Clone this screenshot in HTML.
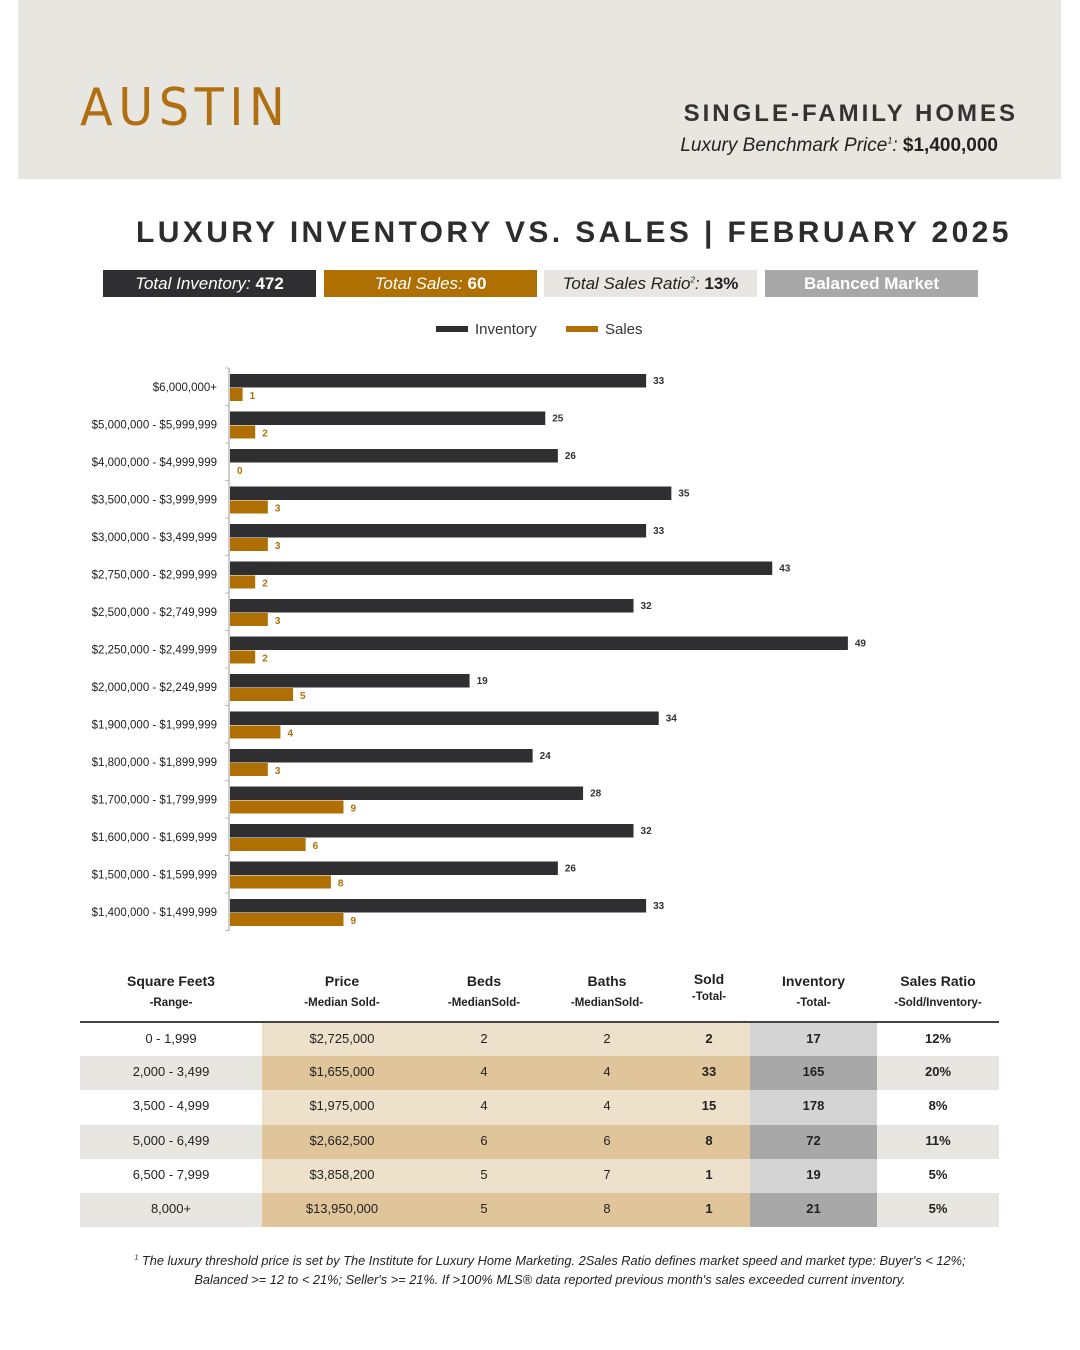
<!DOCTYPE html>
<html><head><meta charset="utf-8"><style>
body{margin:0;width:1080px;height:1350px;background:#fff;position:relative;font-family:"Liberation Sans",sans-serif;overflow:hidden}
.abs{position:absolute}
.box{position:absolute;top:270px;height:27px;width:213px;font-size:17px;line-height:27px;text-align:center;font-style:italic}
.box b{font-style:normal}
.box sup{line-height:0;font-size:8px}
table{position:absolute;left:80px;top:970px;width:919px;border-collapse:collapse;font-size:13px;color:#222}
th{font-weight:bold;font-size:14px;padding:0;height:51px;vertical-align:top;line-height:22px}
th small{font-size:11.5px;display:block}
td{height:34.2px;padding:0 0 3px 0;text-align:center;box-sizing:border-box}
tr.h{border-bottom:2px solid #444}
</style></head><body>
<div class="abs" style="left:18px;top:0;width:1043px;height:179px;background:#e8e6e1"></div>
<div class="abs" style="left:80px;top:78px;font-size:52px;color:#b06f10;letter-spacing:6px;font-family:'DejaVu Sans',sans-serif;font-weight:normal;transform:scaleX(0.92);transform-origin:left">AUSTIN</div>
<div class="abs" style="right:62px;top:100px;font-size:24px;font-weight:bold;letter-spacing:3px;color:#333">SINGLE-FAMILY HOMES</div>
<div class="abs" style="right:82px;top:135px;font-size:19px;color:#222"><i>Luxury Benchmark Price<sup style="font-size:9px;line-height:0">1</sup>:</i> <b>$1,400,000</b></div>
<div class="abs" style="left:136px;top:216px;font-size:30px;font-weight:bold;letter-spacing:3.4px;color:#2d2d2f">LUXURY INVENTORY VS. SALES | FEBRUARY 2025</div>
<div class="box" style="left:103px;background:#2f2f31;color:#fff">Total Inventory: <b>472</b></div>
<div class="box" style="left:324px;background:#b06f03;color:#fff">Total Sales: <b>60</b></div>
<div class="box" style="left:544px;background:#e8e6e1;color:#222">Total Sales Ratio<sup>2</sup>: <b>13%</b></div>
<div class="box" style="left:765px;background:#a8a8a8;color:#fff;font-style:normal"><b>Balanced Market</b></div>
<svg class="abs" style="left:0;top:0" width="1080" height="960" id="chart">
<rect x="436" y="326" width="32" height="6" fill="#2f2f31"/>
<text x="475" y="334" font-size="15" fill="#333">Inventory</text>
<rect x="566" y="326" width="32" height="6" fill="#b06f03"/>
<text x="605" y="334" font-size="15" fill="#333">Sales</text>
<g id="g"></g>
</svg>
<script>
const categories=["$6,000,000+","$5,000,000 - $5,999,999","$4,000,000 - $4,999,999","$3,500,000 - $3,999,999","$3,000,000 - $3,499,999","$2,750,000 - $2,999,999","$2,500,000 - $2,749,999","$2,250,000 - $2,499,999","$2,000,000 - $2,249,999","$1,900,000 - $1,999,999","$1,800,000 - $1,899,999","$1,700,000 - $1,799,999","$1,600,000 - $1,699,999","$1,500,000 - $1,599,999","$1,400,000 - $1,499,999"];
const inventory=[33,25,26,35,33,43,32,49,19,34,24,28,32,26,33];
const sales=[1,2,0,3,3,2,3,2,5,4,3,9,6,8,9];
const NS="http://www.w3.org/2000/svg",g=document.getElementById('g');
const x=v=>230+v*12.61, y=i=>387+i*37.5;
function mk(t,a){const e=document.createElementNS(NS,t);for(const k in a)e.setAttribute(k,a[k]);g.appendChild(e);return e;}
const ax=mk('line',{x1:229,x2:229,y1:368,y2:931,stroke:'#bbb','stroke-width':1.5});


for(let i=0;i<=categories.length;i++){const tk=mk('line',{x1:225,x2:229,y1:368+i*37.5,y2:368+i*37.5,stroke:'#bbb'});

}
categories.forEach((c,i)=>{
const l=mk('text',{x:217,y:y(i)+4,'font-size':11.5,fill:'#222','text-anchor':'end'});l.textContent=c;


const b=mk('rect',{x:230,y:y(i)-13,width:x(inventory[i])-230,height:13.5,fill:'#2f2f31'});


const bl=mk('text',{x:x(inventory[i])+7,y:y(i)-3,'font-size':10,'font-weight':'bold',fill:'#333'});bl.textContent=inventory[i];


const s=mk('rect',{x:230,y:y(i)+1,width:x(sales[i])-230,height:13,fill:'#b06f03'});


const sl=mk('text',{x:x(sales[i])+7,y:y(i)+12,'font-size':10,'font-weight':'bold',fill:'#b06f03'});sl.textContent=sales[i];


});
</script>
<table>
<colgroup><col style="width:182px"><col style="width:160px"><col style="width:124px"><col style="width:122px"><col style="width:82px"><col style="width:127px"><col style="width:122px"></colgroup>
<tr class="h"><th>Square Feet3<small>-Range-</small></th><th>Price<small>-Median Sold-</small></th><th>Beds<small>-MedianSold-</small></th><th>Baths<small>-MedianSold-</small></th><th style="line-height:18px">Sold<small>-Total-</small></th><th>Inventory<small>-Total-</small></th><th>Sales Ratio<small>-Sold/Inventory-</small></th></tr>
<tr style="background:#fff"><td>0 - 1,999</td><td style="background:#ede1cc">$2,725,000</td><td style="background:#ede1cc">2</td><td style="background:#ede1cc">2</td><td style="background:#ede1cc"><b>2</b></td><td style="background:#d4d4d4"><b>17</b></td><td><b>12%</b></td></tr>
<tr style="background:#e8e6e1"><td>2,000 - 3,499</td><td style="background:#e0c59b">$1,655,000</td><td style="background:#e0c59b">4</td><td style="background:#e0c59b">4</td><td style="background:#e0c59b"><b>33</b></td><td style="background:#a8a8a8"><b>165</b></td><td><b>20%</b></td></tr>
<tr style="background:#fff"><td>3,500 - 4,999</td><td style="background:#ede1cc">$1,975,000</td><td style="background:#ede1cc">4</td><td style="background:#ede1cc">4</td><td style="background:#ede1cc"><b>15</b></td><td style="background:#d4d4d4"><b>178</b></td><td><b>8%</b></td></tr>
<tr style="background:#e8e6e1"><td>5,000 - 6,499</td><td style="background:#e0c59b">$2,662,500</td><td style="background:#e0c59b">6</td><td style="background:#e0c59b">6</td><td style="background:#e0c59b"><b>8</b></td><td style="background:#a8a8a8"><b>72</b></td><td><b>11%</b></td></tr>
<tr style="background:#fff"><td>6,500 - 7,999</td><td style="background:#ede1cc">$3,858,200</td><td style="background:#ede1cc">5</td><td style="background:#ede1cc">7</td><td style="background:#ede1cc"><b>1</b></td><td style="background:#d4d4d4"><b>19</b></td><td><b>5%</b></td></tr>
<tr style="background:#e8e6e1"><td>8,000+</td><td style="background:#e0c59b">$13,950,000</td><td style="background:#e0c59b">5</td><td style="background:#e0c59b">8</td><td style="background:#e0c59b"><b>1</b></td><td style="background:#a8a8a8"><b>21</b></td><td><b>5%</b></td></tr>
</table>
<div class="abs" style="left:60px;top:1251px;width:980px;text-align:center;font-size:12.8px;font-style:italic;color:#222;line-height:19px"><sup style="font-size:7px;line-height:0">1</sup> The luxury threshold price is set by The Institute for Luxury Home Marketing. 2Sales Ratio defines market speed and market type: Buyer's &lt; 12%;<br>Balanced &gt;= 12 to &lt; 21%; Seller's &gt;= 21%. If &gt;100% MLS® data reported previous month's sales exceeded current inventory.</div>
</body></html>
